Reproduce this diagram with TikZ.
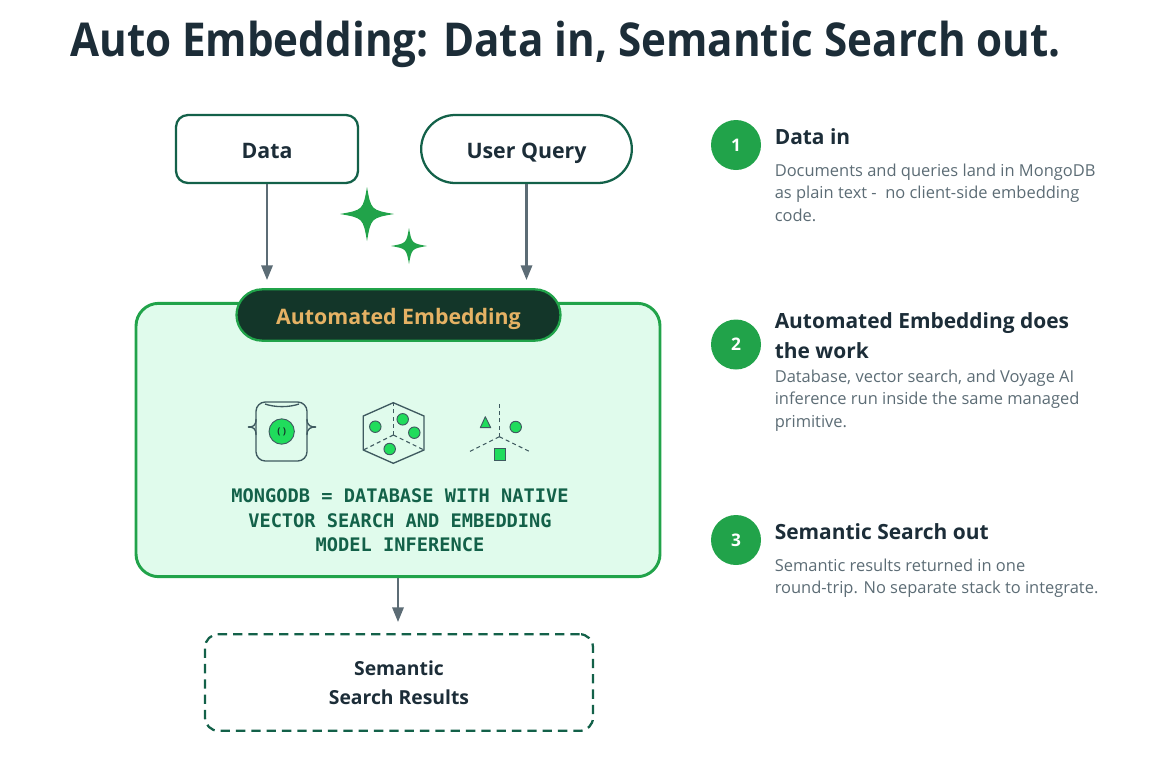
\documentclass[tikz,border=0pt]{standalone}
\usepackage{fontspec}
\setmainfont{Open Sans}
\newfontfamily\titlefont[FakeStretch=.903]{Open Sans}
\newfontfamily\codefont{DejaVu Sans Mono}
\usetikzlibrary{arrows.meta,shapes.misc}

\definecolor{inkdark}{HTML}{1C2D38}
\definecolor{inkgrey}{HTML}{5C6C75}
\definecolor{leafgreen}{HTML}{21A34A}
\definecolor{pinegreen}{HTML}{136149}
\definecolor{mintfill}{HTML}{E0FBEC}
\definecolor{forest}{HTML}{133629}
\definecolor{gold}{HTML}{E5B264}
\definecolor{spring}{HTML}{20DC5C}
\definecolor{slate}{HTML}{3F5A60}

\tikzset{
  input box/.style={draw=pinegreen,line width=1.7pt,fill=white,inner sep=0pt,text height=13.5pt,text depth=0pt,font=\fontsize{16}{20}\selectfont\bfseries,text=inkdark},
  flow/.style={draw=inkgrey,line width=1.7pt,-{Triangle[width=8.5pt,length=11pt]}},
  badge/.style={circle,fill=leafgreen,text=white,minimum size=37.5pt,inner sep=0pt,font=\fontsize{13}{15}\selectfont\bfseries},
  step head/.style={anchor=west,inner sep=0pt,align=left,text=inkdark,font=\fontsize{15.7}{23}\selectfont\bfseries},
  step text/.style={anchor=north west,inner sep=0pt,align=left,text=inkgrey,font=\fontsize{12.35}{17}\selectfont},
  dot/.style={circle,draw=slate,fill=spring,line width=.7pt,minimum size=8.6pt,inner sep=0pt},
  icon line/.style={draw=slate,line width=1pt},
  icon dash/.style={draw=slate,line width=.8pt,dash pattern=on 3pt off 2.4pt}
}
% four pointed star, #1 = position, #2 = radius
\newcommand{\sparkle}[2]{
  \fill[leafgreen,shift={(#1)}] (0,-#2) .. controls (.15*#2,-.15*#2) .. (#2,0)
    .. controls (.15*#2,.15*#2) .. (0,#2)
    .. controls (-.15*#2,.15*#2) .. (-#2,0)
    .. controls (-.15*#2,-.15*#2) .. cycle;
}

\begin{document}
\begin{tikzpicture}[x=.75pt,y=-.75pt]
  \useasboundingbox (0,0) rectangle (1171,764);

  \node[anchor=west,inner sep=0pt,text=inkdark,font=\titlefont\fontsize{35}{40}\selectfont\bfseries] (title) at (70,44)
    {Auto Embedding: Data in, Semantic Search out.};

  \node[input box,rounded corners=9pt,minimum width=136.5pt,minimum height=51pt] (data) at (267,149) {Data};
  \node[input box,rounded rectangle,minimum width=158pt,minimum height=51pt] (query) at (526.5,149) {User Query};

  \sparkle{367,214}{27}
  \sparkle{409,246}{18}

  % main panel
  \node[draw=leafgreen,line width=2.2pt,fill=mintfill,rounded corners=17pt,minimum width=393pt,minimum height=205pt,inner sep=0pt] (panel) at (398,440) {};
  \node[rounded rectangle,draw=leafgreen,line width=1.7pt,fill=forest,text=gold,minimum width=243pt,minimum height=38.5pt,inner sep=0pt,text height=13.5pt,text depth=0pt,font=\fontsize{16}{20}\selectfont\bfseries] (pill) at (398.5,315) {Automated Embedding};

  % icon one
  \draw[icon line,rounded corners=7pt] (256,427) -- (256,402) -- (307,402) -- (307,427);
  \draw[icon line,rounded corners=7pt] (256,427) -- (256,461) -- (307,461) -- (307,427);
  \draw[icon line] (248,427) .. controls (253,427) and (256,426) .. (256,419);
  \draw[icon line] (248,427) .. controls (253,427) and (256,428) .. (256,435);
  \draw[icon line] (316,427) .. controls (311,427) and (307,426) .. (307,419);
  \draw[icon line] (316,427) .. controls (311,427) and (307,428) .. (307,435);
  \draw[icon line] (265,404) .. controls (275,407.5) and (289,407.5) .. (299,404);
  \node[dot,minimum size=19pt,font=\fontsize{7}{8}\selectfont\bfseries,text=forest] (doc) at (281.7,431.5) {( )};

  % icon two
  \draw[icon line] (393.3,402.7) -- (424,416) -- (424,450) -- (393.3,463.3) -- (363.3,450) -- (363.3,416) -- cycle;
  \coordinate (hub) at (393.3,435);
  \draw[icon dash] (hub) -- (393.3,402.7);
  \draw[icon dash] (hub) -- (424,450);
  \draw[icon dash] (hub) -- (363.3,450);
  \node[dot] (d1) at (375.3,426.7) {};
  \node[dot] (d2) at (402.7,419.3) {};
  \node[dot] (d3) at (414.3,432.7) {};
  \node[dot] (d4) at (389.7,449) {};

  % icon three
  \coordinate (axis) at (499.3,436.7);
  \draw[icon dash] (axis) -- (499.3,403.3);
  \draw[icon dash] (axis) -- (469.3,451.7);
  \draw[icon dash] (axis) -- (530,451.7);
  \filldraw[draw=slate,fill=spring,line width=.7pt,line join=round] (485.3,416.7) -- (490.7,427.7) -- (480.3,427.7) -- cycle;
  \node[dot] (d5) at (515.7,427) {};
  \filldraw[draw=slate,fill=spring,line width=.7pt] (494,448.5) rectangle (505,460);

  \node[align=center,inner sep=0pt,text=pinegreen,font=\codefont\fontsize{14}{18.4}\selectfont\bfseries] (native) at (400,520.5)
    {MONGODB = DATABASE WITH NATIVE\\VECTOR SEARCH AND EMBEDDING\\MODEL INFERENCE};

  \node[input box,fill=none,draw=pinegreen,dashed,dash pattern=on 7pt off 4.5pt,rounded corners=10pt,minimum width=291pt,minimum height=72.5pt,align=center,text height=,text depth=,font=\fontsize{14.5}{21.5}\selectfont\bfseries] (results) at (399,682.5) {Semantic\\Search Results};

  \coordinate (dataend) at (data.south |- 0,280);
  \coordinate (queryend) at (query.south |- 0,280);
  \coordinate (panelend) at (panel.south |- 0,622);
  \path (data.south) edge[flow] (dataend)
        (query.south) edge[flow] (queryend)
        (panel.south) edge[flow] (panelend);

  % the three steps
  \node[badge] (one) at (736,145) {1};
  \node[badge] (two) at (736,344.5) {2};
  \node[badge] (three) at (736,540) {3};

  \node[step head] (head1) at (774.5,137) {Data in};
  \node[step text] (text1) at (774.5,163.5) {Documents and queries land in MongoDB\\as plain text -\ \ no client-side embedding\\code.};

  \node[step head] (head2) at (774.5,335.5) {Automated Embedding does\\the work};
  \node[step text] (text2) at (774.5,369.5) {Database, vector search, and Voyage AI\\inference run inside the same managed\\primitive.};

  \node[step head] (head3) at (774.5,532) {Semantic Search out};
  \node[step text] (text3) at (774.5,558.5) {Semantic results returned in one\\round-trip. No separate stack to integrate.};
\end{tikzpicture}
\end{document}
